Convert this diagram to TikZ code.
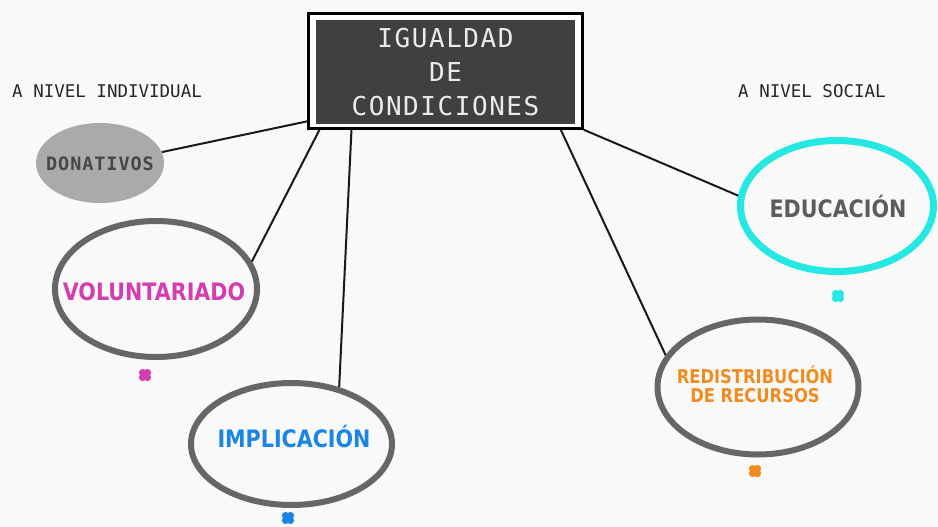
\documentclass[tikz,border=0pt]{standalone}
\usepackage{fontspec}
\usepackage{tikz}
\usetikzlibrary{shapes.geometric}

\newfontfamily\mono{DejaVu Sans Mono}
\newfontfamily\negrita[FakeStretch=0.86]{DejaVu Sans}

\definecolor{fondo}{HTML}{F9F9F9}
\definecolor{pizarra}{HTML}{404040}
\definecolor{gris}{HTML}{666666}
\definecolor{grisclaro}{HTML}{A9ABAA}
\definecolor{cian}{HTML}{26E8E2}
\definecolor{rosa}{HTML}{D43DB0}
\definecolor{azul}{HTML}{1A85E4}
\definecolor{naranja}{HTML}{F28B1E}

% little four-leaf mark under each bubble
\newcommand{\flor}[2]{%
  \fill[#2] (#1) circle (4.3pt);
  \foreach \a in {45,135,225,315}
    \fill[#2] (#1) ++(\a:3.4pt) circle (3.7pt);
}

\begin{document}
\begin{tikzpicture}[x=1pt,y=-1pt,
    globo/.style={shape=ellipse,draw=gris,line width=6pt,inner sep=0pt},
    rotulo/.style={font=\negrita\bfseries\fontsize{24}{24}\selectfont,anchor=base},
    tenue/.style={font=\mono\fontsize{17.5}{17.5}\selectfont,text=black!85,anchor=base west,inner sep=0pt},
    enlace/.style={line width=2pt,black!90}]
        \useasboundingbox[fill=fondo] (0,0) rectangle (938,527);

        \node[draw=black,line width=2.5pt,fill=white,minimum width=274pt,minimum height=115pt] (titulo) at (445.5,71) {};
        \node[fill=pizarra,text=white!92!black,align=center,minimum width=259pt,minimum height=103pt,
              font=\mono\addfontfeature{LetterSpace=6}\fontsize{26}{34}\selectfont] (lema) at (445.5,72) {IGUALDAD\\DE\\CONDICIONES};

        \node[tenue] (individual) at (12,98) {A NIVEL INDIVIDUAL};
        \node[tenue] (social) at (738,98) {A NIVEL SOCIAL};

        \node[shape=ellipse,fill=grisclaro,minimum width=128pt,minimum height=80pt,inner sep=0pt] (donativos) at (100,163) {};
        \node[font=\mono\bfseries\addfontfeature{LetterSpace=5}\fontsize{18.5}{18.5}\selectfont,text=black!72,anchor=base] (tdonativos) at (100,170) {DONATIVOS};

        \node[globo,minimum width=202pt,minimum height=136pt] (voluntariado) at (156,289) {};
        \node[globo,minimum width=201pt,minimum height=122pt] (implicacion) at (291.5,444) {};
        \node[globo,draw=cian,line width=7pt,minimum width=193pt,minimum height=131pt] (educacion) at (837,206) {};
        \node[globo,minimum width=201pt,minimum height=135pt] (redistribucion) at (758,387) {};

        \node[rotulo,text=rosa] (tvoluntariado) at (154,300) {VOLUNTARIADO};
        \node[rotulo,text=azul] (timplicacion) at (294,447) {IMPLICACIÓN};
        \node[rotulo,text=gris!90!black] (teducacion) at (838,217) {EDUCACIÓN};
        \node[rotulo,anchor=center,align=center,text=naranja,font=\negrita\bfseries\fontsize{19}{19}\selectfont] (tredistribucion) at (755,384.5) {REDISTRIBUCIÓN\\DE RECURSOS};

        \path [enlace](titulo.200) edge (donativos.10);
        \path [enlace](titulo.205) edge (voluntariado.16);
        \path [enlace](titulo.212) edge (implicacion.50);
        \path [enlace](titulo.333) edge (redistribucion.161);
        \path [enlace](titulo.south east) edge (educacion.174);

        \flor{145,375}{rosa}
        \flor{288,518}{azul}
        \flor{838,296}{cian}
        \flor{755,471}{naranja}
    \end{tikzpicture}
\end{document}
